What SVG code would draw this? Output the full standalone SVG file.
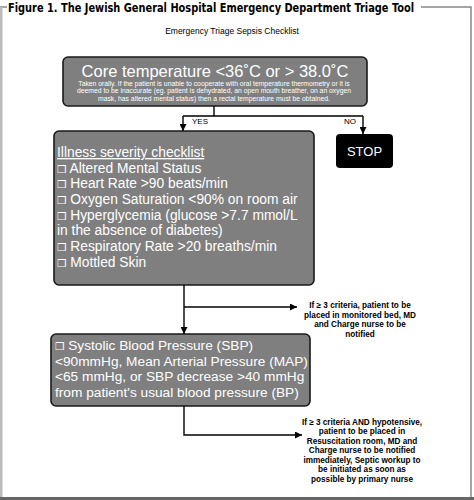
<svg xmlns="http://www.w3.org/2000/svg" width="474" height="500" viewBox="0 0 474 500">
<defs>
<style>
.box{fill:#7f7f7f;stroke:#1a1a1a;stroke-width:1.6}
.wt{fill:#fff;font-family:"Liberation Sans",Arial,sans-serif}
.bt{fill:#000;font-family:"Liberation Sans",Arial,sans-serif;font-weight:bold;font-size:8.2px;text-anchor:middle}
.ln{stroke:#000;stroke-width:1.4;fill:none}
.ck{font-family:"DejaVu Sans",sans-serif;font-size:10.5px}
</style>
<marker id="ah" viewBox="0 0 10 10" refX="10" refY="5" markerWidth="7" markerHeight="7" markerUnits="userSpaceOnUse" orient="auto">
<path d="M0,0 L10,5 L0,10 z" fill="#000"/>
</marker>
</defs>
<rect width="474" height="500" fill="#fff"/>
<g id="frame">
<path d="M0,7 H7 M421,7 H471 V497" stroke="#888" stroke-width="1.5" fill="none"/>
<rect x="0" y="7" width="2.5" height="492" fill="#bbb"/>
<rect x="0" y="497" width="474" height="3" fill="#666"/>
<text x="8" y="12" font-family="'Liberation Sans Narrow','DejaVu Sans Condensed','Liberation Sans',sans-serif" font-weight="bold" font-size="12.5" textLength="406" lengthAdjust="spacingAndGlyphs">Figure 1.  The Jewish General Hospital Emergency Department Triage Tool</text>
<text x="232" y="34" font-family="'Liberation Sans',Arial,sans-serif" font-size="8.5" text-anchor="middle">Emergency Triage Sepsis Checklist</text>
</g>
<g id="core">
<rect class="box" x="63" y="57" width="304" height="49" rx="5"/>
<text class="wt" x="215" y="77" font-size="16.5" text-anchor="middle">Core temperature &lt;36˚C or &gt; 38.0˚C</text>
<text class="wt" x="214" y="85.5" font-size="6.8" text-anchor="middle">Taken orally.  If the patient is unable to cooperate with oral temperature thermometry or it is</text>
<text class="wt" x="214" y="93" font-size="6.8" text-anchor="middle">deemed to be inaccurate (eg. patient is dehydrated, an open mouth breather, on an oxygen</text>
<text class="wt" x="214" y="100.5" font-size="6.8" text-anchor="middle">mask,  has altered mental status) then a rectal temperature must be obtained.</text>
</g>
<g id="stop">
<rect x="336" y="134" width="57" height="34" rx="4" fill="#000"/>
<text class="wt" x="364.5" y="156" font-size="13" text-anchor="middle">STOP</text>
</g>
<g id="illness">
<rect class="box" x="54" y="131" width="260" height="154" rx="5"/>
<text class="wt" x="57" y="157" font-size="13.8" text-decoration="underline">Illness severity checklist</text>
<text class="wt" x="57" y="172.5" font-size="13.8"><tspan class="ck">❒</tspan> Altered Mental Status</text>
<text class="wt" x="57" y="188" font-size="13.8"><tspan class="ck">❒</tspan> Heart Rate &gt;90 beats/min</text>
<text class="wt" x="57" y="204" font-size="13.8"><tspan class="ck">❒</tspan> Oxygen Saturation &lt;90% on room air</text>
<text class="wt" x="57" y="219.5" font-size="13.8"><tspan class="ck">❒</tspan> Hyperglycemia (glucose &gt;7.7 mmol/L</text>
<text class="wt" x="57" y="235" font-size="13.8">in the absence of diabetes)</text>
<text class="wt" x="57" y="251" font-size="13.8"><tspan class="ck">❒</tspan> Respiratory Rate &gt;20 breaths/min</text>
<text class="wt" x="57" y="267" font-size="13.8"><tspan class="ck">❒</tspan> Mottled Skin</text>
</g>
<g id="note1">
<text class="bt" x="360" y="308">If ≥ 3 criteria, patient to be</text>
<text class="bt" x="360" y="317.5">placed in monitored bed, MD</text>
<text class="bt" x="360" y="327">and Charge nurse to be</text>
<text class="bt" x="360" y="336.5">notified</text>
</g>
<g id="sbp">
<rect class="box" x="51" y="334" width="259" height="72" rx="5"/>
<text class="wt" x="55" y="350" font-size="13.7"><tspan class="ck">❒</tspan> Systolic Blood Pressure (SBP)</text>
<text class="wt" x="55" y="365.5" font-size="13.7">&lt;90mmHg, Mean Arterial Pressure (MAP)</text>
<text class="wt" x="55" y="381" font-size="13.7">&lt;65 mmHg, or SBP decrease &gt;40 mmHg</text>
<text class="wt" x="55" y="397" font-size="13.7">from patient's usual blood pressure (BP)</text>
</g>
<g id="note2">
<text class="bt" x="362" y="424.5">If ≥ 3 criteria AND hypotensive,</text>
<text class="bt" x="362" y="434">patient to be placed in</text>
<text class="bt" x="362" y="443.5">Resuscitation room, MD and</text>
<text class="bt" x="362" y="453">Charge nurse to be notified</text>
<text class="bt" x="362" y="462.5">immediately, Septic workup to</text>
<text class="bt" x="362" y="472">be initiated as soon as</text>
<text class="bt" x="362" y="481.5">possible by primary nurse</text>
</g>
<g id="connectors">
<path class="ln" d="M214,106 V116 M183,116 H363"/>
<path class="ln" d="M183,116 V131" marker-end="url(#ah)"/>
<path class="ln" d="M363,116 V134" marker-end="url(#ah)"/>
<text x="192" y="124" font-family="'Liberation Sans',Arial,sans-serif" font-size="8">YES</text>
<text x="344" y="124" font-family="'Liberation Sans',Arial,sans-serif" font-size="8">NO</text>
<path class="ln" d="M184,285 V334" marker-end="url(#ah)"/>
<path class="ln" d="M184,307 H297" marker-end="url(#ah)"/>
<path class="ln" d="M184,406 V435 H302" marker-end="url(#ah)"/>
</g>
</svg>
